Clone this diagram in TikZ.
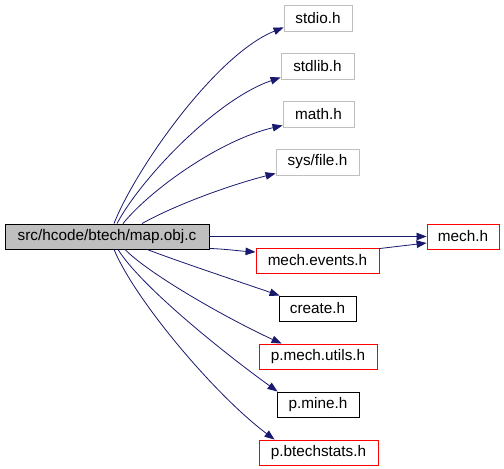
\documentclass[tikz,border=0pt]{standalone}
\usepackage{fontspec}
\setmainfont{Liberation Sans}
\usetikzlibrary{arrows.meta}
\definecolor{edgecol}{HTML}{191970}
\definecolor{sysgray}{HTML}{BFBFBF}
\definecolor{redb}{HTML}{FF0000}
\tikzset{
  box/.style={draw, rectangle, inner sep=0pt, line width=0.9bp, font=\fontsize{15.3bp}{17bp}\selectfont},
  sysbox/.style={box, draw=sysgray},
  redbox/.style={box, draw=redb},
  blkbox/.style={box, draw=black},
  mainbox/.style={box, draw=black, fill=sysgray},
  edge/.style={draw=edgecol, line width=0.8bp, -{Triangle[length=10bp,width=7.5bp]}, fill=none},
}
\begin{document}
\begin{tikzpicture}[x=1bp,y=-1bp]
\useasboundingbox[fill=white] (0,0) rectangle (504,469);
\node[mainbox, minimum width=204bp, minimum height=25bp] (main) at (107,236.5) {src/hcode/btech/map.obj.c};
\node[sysbox, minimum width=68bp, minimum height=26bp] (stdio) at (318,18) {stdio.h};
\node[sysbox, minimum width=73bp, minimum height=26bp] (stdlib) at (317.5,66) {stdlib.h};
\node[sysbox, minimum width=71bp, minimum height=26bp] (math) at (318.5,114) {math.h};
\node[sysbox, minimum width=83bp, minimum height=26bp] (sysfile) at (317.5,162) {sys/file.h};
\node[redbox, minimum width=72bp, minimum height=25bp] (mech) at (463,236.5) {mech.h};
\node[redbox, minimum width=123bp, minimum height=25bp] (mechev) at (317.5,260.5) {mech.events.h};
\node[blkbox, minimum width=77bp, minimum height=25bp] (create) at (317.5,308.5) {create.h};
\node[redbox, minimum width=118bp, minimum height=25bp] (pmu) at (318,356.5) {p.mech.utils.h};
\node[blkbox, minimum width=82bp, minimum height=25bp] (pmine) at (318,404.5) {p.mine.h};
\node[redbox, minimum width=119bp, minimum height=25bp] (pbs) at (318.5,452.5) {p.btechstats.h};

\draw[edge] ([xshift=7bp]main.north) .. controls (135,170) and (215,55) .. ([yshift=4bp]stdio.south west);
\draw[edge] ([xshift=10bp]main.north) .. controls (140,180) and (215,100) .. ([yshift=2bp]stdlib.south west);
\draw[edge] ([xshift=16bp]main.north) .. controls (150,190) and (220,140) .. ([yshift=2bp]math.south west);
\draw[edge] ([xshift=35bp]main.north) .. controls (175,205) and (230,185) .. ([yshift=2bp]sysfile.south west);
\draw[edge] (main.east) -- (mech.west);
\draw[edge] ([yshift=1bp]main.south east) .. controls (225,249) and (240,251) .. ([yshift=8.5bp]mechev.west);
\draw[edge] ([yshift=-1bp]mechev.north east) -- ([yshift=-6.5bp]mech.west);
\draw[edge] ([xshift=40bp]main.south) .. controls (180,262) and (240,282) .. ([xshift=1bp]create.north west);
\draw[edge] ([xshift=18bp]main.south) .. controls (150,275) and (230,320) .. ([xshift=23bp]pmu.north west);
\draw[edge] ([xshift=11bp]main.south) .. controls (140,285) and (220,350) .. ([xshift=1bp]pmine.north west);
\draw[edge] ([xshift=7bp]main.south) .. controls (135,300) and (215,395) .. ([xshift=16bp]pbs.north west);
\end{tikzpicture}
\end{document}
